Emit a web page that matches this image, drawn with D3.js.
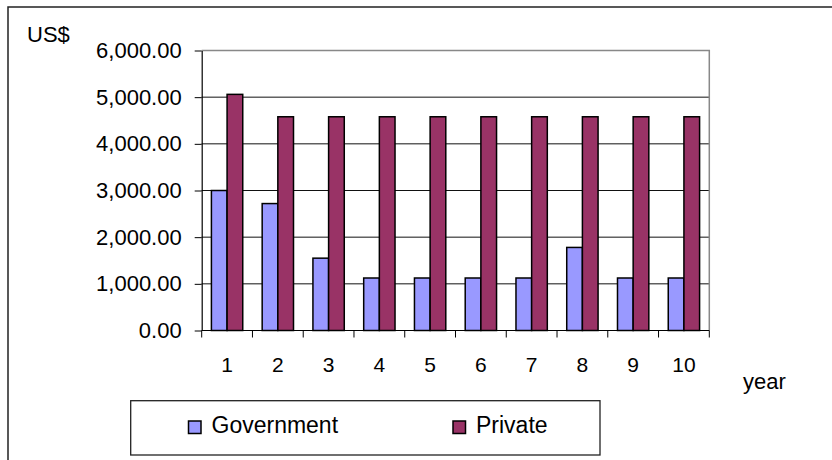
<!DOCTYPE html>
<html>
<head>
<meta charset="utf-8">
<script src="https://cdn.jsdelivr.net/npm/d3@7"></script>
<style>
  html, body { margin: 0; padding: 0; background: #fff; }
  svg { display: block; font-family: "Liberation Sans", Arial, sans-serif; }
</style>
</head>
<body>
<svg id="chart" width="832" height="460"></svg>
<script>
// Annual spending per year, in US$
const years = ["1", "2", "3", "4", "5", "6", "7", "8", "9", "10"];
const seriesNames = ["Government", "Private"];
const government = [3000, 2720, 1550, 1125, 1125, 1125, 1125, 1780, 1125, 1125];
const privateValues = [5060, 4580, 4580, 4580, 4580, 4580, 4580, 4580, 4580, 4580];
const yTicks = [0, 1000, 2000, 3000, 4000, 5000, 6000];
const colors = ["#9999FF", "#993366"];

const rows = years.map((y, i) => ({ year: y, values: [government[i], privateValues[i]] }));

const svg = d3.select("#chart");

// outer chart frame (runs past the right and bottom edges)
svg.append("rect")
  .attr("x", 8).attr("y", 7).attr("width", 900).attr("height", 500)
  .attr("fill", "none").attr("stroke", "#222").attr("stroke-width", 1.5);

const plot = { left: 201.7, right: 709.3, top: 50.5, bottom: 330.5 };

const x0 = d3.scaleBand().domain(years).range([plot.left, plot.right]).padding(0);
const x1 = d3.scaleBand().domain(seriesNames).range([0, x0.bandwidth()])
  .paddingInner(0).paddingOuter(0.62);
const y = d3.scaleLinear().domain([0, 6000]).range([plot.bottom, plot.top]);

// horizontal gridlines
svg.append("g").selectAll("line").data(yTicks.filter(t => t > 0 && t < 6000)).join("line")
  .attr("x1", plot.left).attr("x2", plot.right)
  .attr("y1", d => y(d)).attr("y2", d => y(d))
  .attr("stroke", "#111").attr("stroke-width", 1);

// top and right plot borders
svg.append("path")
  .attr("d", `M${plot.left},${plot.top}H${plot.right}V${plot.bottom}`)
  .attr("fill", "none").attr("stroke", "#888").attr("stroke-width", 1.5);

// bars
const groups = svg.append("g").selectAll("g").data(rows).join("g")
  .attr("transform", d => `translate(${x0(d.year)},0)`);
groups.selectAll("rect").data(d => d.values.map((v, i) => ({ name: seriesNames[i], value: v, i })))
  .join("rect")
  .attr("x", d => x1(d.name))
  .attr("width", x1.bandwidth())
  .attr("y", d => y(d.value))
  .attr("height", d => y(0) - y(d.value))
  .attr("fill", d => colors[d.i])
  .attr("stroke", "#000").attr("stroke-width", 1.5);

// y axis
const yAxis = d3.axisLeft(y).tickValues(yTicks).tickFormat(d3.format(",.2f"))
  .tickSizeInner(7).tickSizeOuter(0).tickPadding(13);
const yg = svg.append("g").attr("transform", `translate(${plot.left},0)`).call(yAxis);
yg.select(".domain").attr("stroke", "#000").attr("stroke-width", 1.2);
yg.selectAll(".tick line").attr("stroke", "#000");
yg.selectAll("text").attr("font-size", 22).attr("fill", "#000")
  .attr("font-family", "'Liberation Sans', Arial, sans-serif");

// x axis: ticks sit on category boundaries
const xg = svg.append("g").attr("transform", `translate(0,${plot.bottom})`);
xg.append("line").attr("x1", plot.left).attr("x2", plot.right)
  .attr("stroke", "#000").attr("stroke-width", 1.2);
const bounds = years.map(yr => x0(yr)).concat([x0(years[years.length - 1]) + x0.bandwidth()]);
xg.selectAll("line.tk").data(bounds).join("line").attr("class", "tk")
  .attr("x1", d => d).attr("x2", d => d).attr("y1", 0).attr("y2", 7)
  .attr("stroke", "#000");
xg.selectAll("text").data(years).join("text")
  .attr("x", d => x0(d) + x0.bandwidth() / 2)
  .attr("y", 41)
  .attr("text-anchor", "middle")
  .attr("font-size", 21)
  .text(d => d);

// axis titles
svg.append("text").attr("x", 27).attr("y", 41.5).attr("font-size", 22).text("US$");
svg.append("text").attr("x", 743).attr("y", 389).attr("font-size", 22).text("year");

// legend
const lg = svg.append("g");
lg.append("rect").attr("x", 130.7).attr("y", 400.7).attr("width", 469.3).attr("height", 54.3)
  .attr("fill", "#fff").attr("stroke", "#222").attr("stroke-width", 1.3);
const legendX = [188.5, 453];
seriesNames.forEach((name, i) => {
  lg.append("rect").attr("x", legendX[i]).attr("y", 421).attr("width", 12.5).attr("height", 12.5)
    .attr("fill", colors[i]).attr("stroke", "#000").attr("stroke-width", 1.5);
  lg.append("text").attr("x", legendX[i] + 23).attr("y", 433).attr("font-size", 23).text(name);
});
</script>
</body>
</html>
